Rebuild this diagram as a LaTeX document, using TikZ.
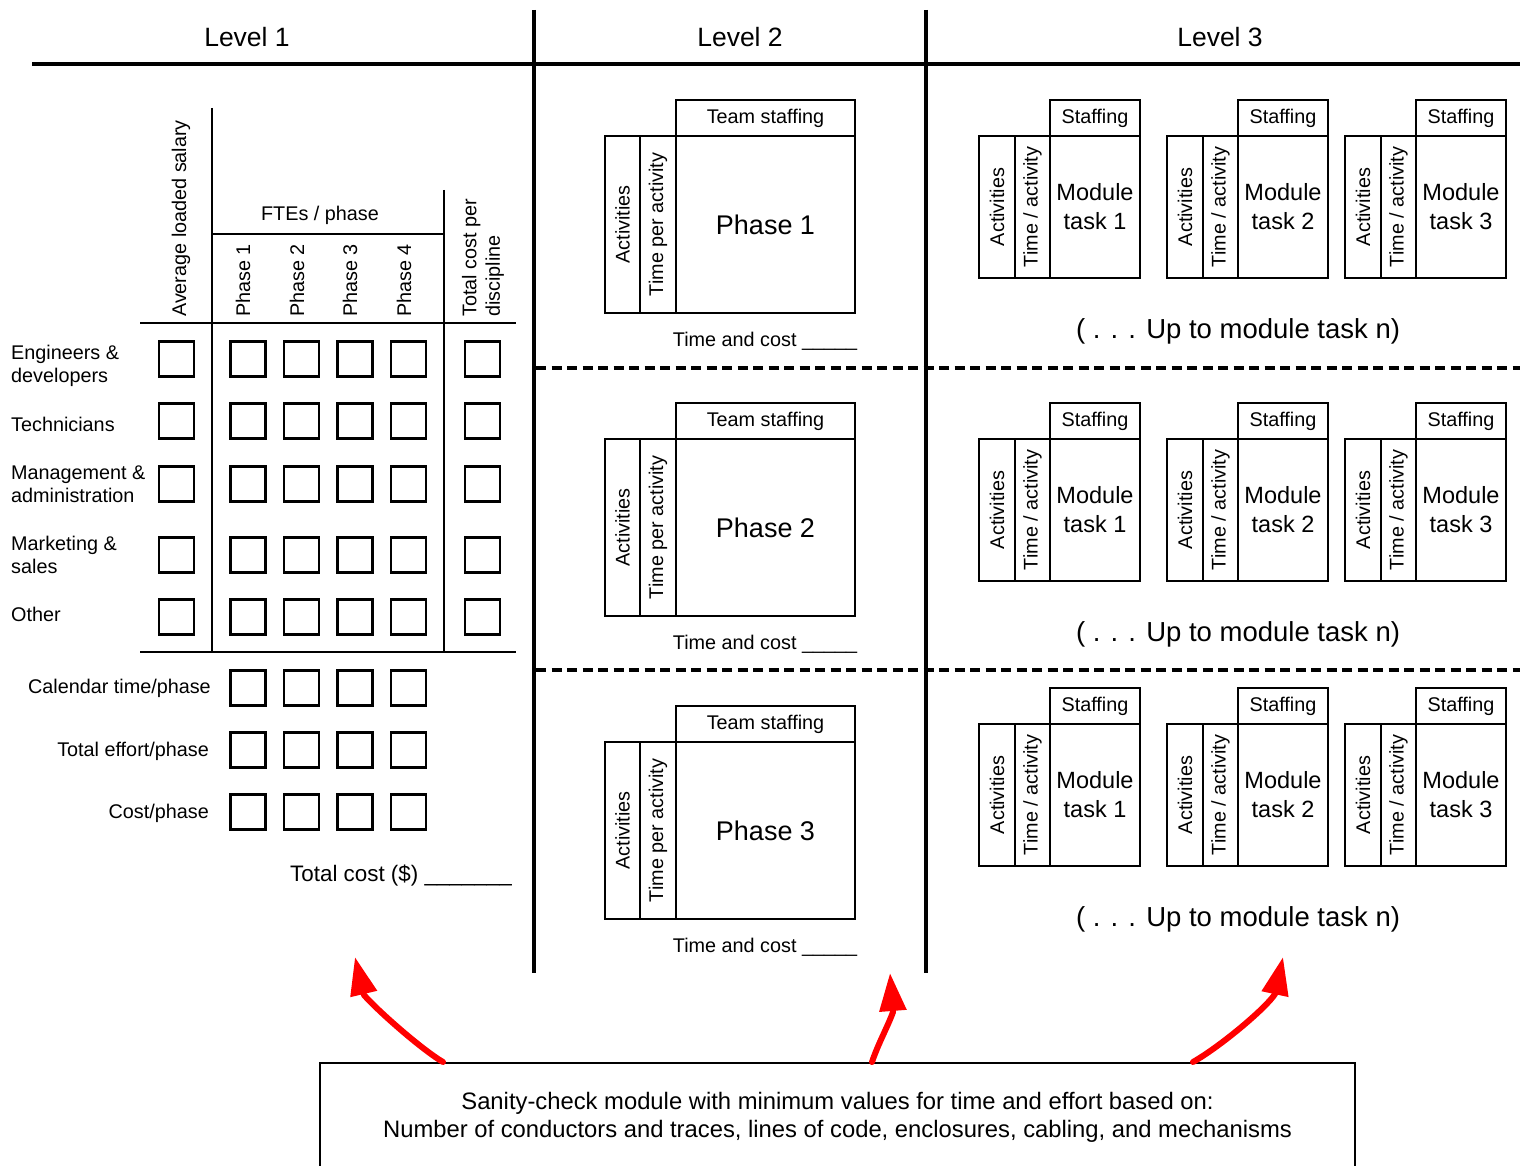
\documentclass[tikz,border=0pt]{standalone}
\usepackage{fontspec}
\setmainfont{Liberation Sans}
\usetikzlibrary{positioning, arrows.meta}

\tikzset{
  box/.style={draw, line width=2pt, inner sep=0pt},
  cell/.style={draw, line width=2.2pt, minimum size=35pt, inner sep=0pt},
  small/.style={font=\fontsize{19.8}{23.5}\selectfont, inner sep=0pt},
  title/.style={font=\fontsize{26.5}{30}\selectfont},
  upto/.style={font=\fontsize{27.5}{32}\selectfont},
  frame/.style={line width=4pt},
  grid/.style={line width=2pt},
  sep/.style={line width=3.5pt, dash pattern=on 10pt off 5.5pt},
  redarrow/.style={draw=red, line width=6pt, line cap=round, line join=round, -{Triangle[length=38pt, width=26pt]}}
}

\begin{document}
\begin{tikzpicture}[x=1pt, y=-1pt, line join=miter]

    \useasboundingbox (0,0) rectangle (1520,1166);

    % Level titles
    \node[title] (lvlone) at (247,37) {Level 1};
    \node[title] (lvltwo) at (740,37) {Level 2};
    \node[title] (lvlthree) at (1220,37) {Level 3};

    % Frame
    \draw[frame] (32,64) -- (1520,64);
    \draw[frame] (534,10) -- (534,973);
    \draw[frame] (926,10) -- (926,973);
    \draw[sep] (536,368) -- (1520,368);
    \draw[sep] (536,670) -- (1520,670);

    % Level 1 table lines
    \draw[grid] (212,108) -- (212,652);
    \draw[grid] (444,190) -- (444,652);
    \draw[grid] (212,234) -- (444,234);
    \draw[grid] (140,323) -- (516,323);
    \draw[grid] (140,652) -- (516,652);

    % Level 1 column heads
    \node[small, rotate=90, anchor=west] (salary) at (181,317) {Average loaded salary};
    \node[small] (fte) at (320,215) {FTEs / phase};
    \foreach \i/\x in {1/243, 2/297, 3/350, 4/404}
      \node[small, rotate=90, anchor=west] (ph\i) at (\x,317) {Phase \i};
    \node[small, rotate=90, anchor=west, align=left] (tcost) at (483,317) {Total cost per\\discipline};

    % Level 1 row labels
    \node[small, anchor=west, align=left] (eng) at (11,366) {Engineers \&\\developers};
    \node[small, anchor=west] (tech) at (11,424) {Technicians};
    \node[small, anchor=west, align=left] (mgmt) at (11,484) {Management \&\\administration};
    \node[small, anchor=west, align=left] (mkt) at (11,555) {Marketing \&\\sales};
    \node[small, anchor=west] (other) at (11,614) {Other};
    \node[small, anchor=east] (cal) at (211,688) {Calendar time/phase};
    \node[small, anchor=east] (eff) at (209,751) {Total effort/phase};
    \node[small, anchor=east] (cst) at (209,813) {Cost/phase};
    \node[font=\fontsize{22.4}{26}\selectfont, inner sep=0pt, anchor=east] (total) at (512,876) {Total cost (\$) \_\_\_\_\_\_\_};

    % Level 1 cells
    \foreach \r/\y in {1/359, 2/421, 3/484, 4/555, 5/617}
      \foreach \c/\x in {1/176.5, 2/248, 3/301.5, 4/355, 5/408.5, 6/482.5}
        \node[cell] (c\r\c) at (\x,\y) {};
    \foreach \r/\y in {6/688, 7/750, 8/812}
      \foreach \c/\x in {2/248, 3/301.5, 4/355, 5/408.5}
        \node[cell] (c\r\c) at (\x,\y) {};

    % Level 2 phases
    \foreach \n/\dy in {1/0, 2/303, 3/606} {
      \begin{scope}[shift={(0,\dy)}]
        \node[box, small, minimum width=179pt, minimum height=36pt] (staff\n) at (765.5,118) {Team staffing};
        \node[box, minimum width=179pt, minimum height=177pt, font=\fontsize{27}{32}\selectfont] (phase\n) at (765.5,224.5) {Phase \n};
        \node[box, small, rotate=90, minimum width=177pt, minimum height=35pt] (act\n) at (622.5,224.5) {Activities};
        \node[box, small, rotate=90, minimum width=177pt, minimum height=36pt] (tpa\n) at (658,224.5) {Time per activity};
        \node[small] (tc\n) at (765,341) {Time and cost \_\_\_\_\_};
      \end{scope}
    }

    % Level 3 module tasks
    \foreach \row/\dy in {1/0, 2/303, 3/588} {
      \foreach \m/\x in {1/979, 2/1167, 3/1345} {
        \begin{scope}[shift={(\x,\dy)}]
          \node[box, small, minimum width=90pt, minimum height=36pt] (st\row\m) at (116,118) {Staffing};
          \node[box, align=center, minimum width=90pt, minimum height=142pt, font=\fontsize{23.5}{29}\selectfont] (mod\row\m) at (116,207) {Module\\task \m};
          \node[box, small, rotate=90, minimum width=142pt, minimum height=36pt] (ac\row\m) at (18,207) {Activities};
          \node[box, small, rotate=90, minimum width=142pt, minimum height=35pt] (ta\row\m) at (53.5,207) {Time / activity};
        \end{scope}
      }
      \node[upto] (upto\row) at (1238,331+\dy) {( . . . Up to module task n)};
    }

    % Sanity check box
    \node[box, anchor=north west, minimum width=1035pt, minimum height=108pt, align=center,
          font=\fontsize{23.8}{28}\selectfont] (sanity) at (319,1062)
          {Sanity-check module with minimum values for time and effort based on:\\
           Number of conductors and traces, lines of code, enclosures, cabling, and mechanisms};

    % Red arrows
    \coordinate (srcone) at (443,1062);
    \coordinate (srctwo) at (872,1062);
    \coordinate (srcthree) at (1193,1062);
    \coordinate (baseone) at (364,995);
    \coordinate (basetwo) at (893,1012);
    \coordinate (basethree) at (1275,994);
    \coordinate (tipone) at (355,957);
    \coordinate (tiptwo) at (890,973);
    \coordinate (tipthree) at (1283,957);
    \draw[redarrow] (srcone) .. controls (421,1049) and (377,1010) .. (baseone) -- (tipone);
    \draw[redarrow] (srctwo) .. controls (878,1044) and (888,1026) .. (basetwo) -- (tiptwo);
    \draw[redarrow] (srcthree) .. controls (1221,1046) and (1266,1008) .. (basethree) -- (tipthree);

\end{tikzpicture}
\end{document}
